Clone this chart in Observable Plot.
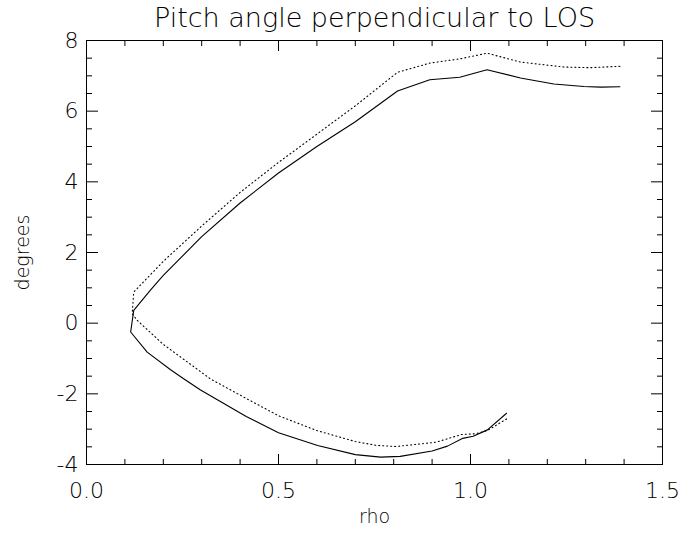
<!DOCTYPE html>
<html>
<head>
<meta charset="utf-8">
<script src="https://cdn.jsdelivr.net/npm/d3@7"></script>
<script src="https://cdn.jsdelivr.net/npm/@observablehq/plot@0.6"></script>
<style>
  html, body { margin: 0; padding: 0; background: #fff; }
  #chart svg { display: block; }
</style>
</head>
<body>
<div id="chart"></div>
<script>
const title = "Pitch angle perpendicular to LOS";
const xLabel = "rho";
const yLabel = "degrees";

// solid curve (lower branch end -> vertex -> upper branch end)
const solidRho = [1.094, 1.044, 1.007, 0.98, 0.94, 0.90, 0.817, 0.766, 0.70, 0.602, 0.50, 0.416, 0.297, 0.251, 0.219, 0.158, 0.115,
                  0.123, 0.167, 0.20, 0.30, 0.40, 0.50, 0.60, 0.70, 0.81, 0.894, 0.972, 1.043, 1.13, 1.217, 1.295, 1.339, 1.389];
const solidDeg = [-2.55, -3.02, -3.20, -3.26, -3.48, -3.62, -3.77, -3.79, -3.72, -3.46, -3.10, -2.64, -1.89, -1.56, -1.32, -0.82, -0.25,
                  0.36, 0.94, 1.35, 2.45, 3.40, 4.25, 5.00, 5.70, 6.57, 6.89, 6.96, 7.17, 6.94, 6.77, 6.70, 6.68, 6.69];

// dotted curve
const dottedRho = [1.094, 1.044, 1.013, 0.977, 0.91, 0.807, 0.755, 0.70, 0.60, 0.50, 0.426, 0.323, 0.20, 0.132, 0.119,
                   0.123, 0.20, 0.30, 0.40, 0.50, 0.60, 0.70, 0.81, 0.894, 0.972, 1.043, 1.13, 1.243, 1.31, 1.389];
const dottedDeg = [-2.71, -3.04, -3.13, -3.15, -3.37, -3.49, -3.46, -3.35, -3.04, -2.62, -2.19, -1.58, -0.60, 0.08, 0.27,
                   0.88, 1.75, 2.75, 3.70, 4.55, 5.35, 6.15, 7.10, 7.36, 7.48, 7.64, 7.39, 7.25, 7.23, 7.27];

const xMajor = [0.0, 0.5, 1.0, 1.5];
const xMinor = [0.1, 0.2, 0.3, 0.4, 0.6, 0.7, 0.8, 0.9, 1.1, 1.2, 1.3, 1.4];
const yMajor = [-4, -2, 0, 2, 4, 6, 8];
const yMinor = [-3.5, -3, -2.5, -1.5, -1, -0.5, 0.5, 1, 1.5, 2.5, 3, 3.5, 4.5, 5, 5.5, 6.5, 7, 7.5];

const solid = solidRho.map((r, i) => ({rho: r, deg: solidDeg[i]}));
const dotted = dottedRho.map((r, i) => ({rho: r, deg: dottedDeg[i]}));

const font = "'DejaVu Sans', sans-serif";

const chart = Plot.plot({
  width: 681,
  height: 536,
  marginLeft: 86,
  marginRight: 19,
  marginTop: 40,
  marginBottom: 72,
  style: {fontFamily: font, background: "#fff", color: "#000", fontWeight: 200},
  x: {domain: [0, 1.5], label: null},
  y: {domain: [-4, 8], label: null},
  marks: [
    Plot.frame({stroke: "#000", strokeWidth: 1}),
    // inward ticks, four sides
    Plot.axisX(xMajor, {anchor: "bottom", tickSize: -10, tickFormat: () => ""}),
    Plot.axisX(xMinor, {anchor: "bottom", tickSize: -5, tickFormat: () => ""}),
    Plot.axisX(xMajor, {anchor: "top", tickSize: -10, tickFormat: () => ""}),
    Plot.axisX(xMinor, {anchor: "top", tickSize: -5, tickFormat: () => ""}),
    Plot.axisY(yMajor, {anchor: "left", tickSize: -12, tickFormat: () => ""}),
    Plot.axisY(yMinor, {anchor: "left", tickSize: -6, tickFormat: () => ""}),
    Plot.axisY(yMajor, {anchor: "right", tickSize: -12, tickFormat: () => ""}),
    Plot.axisY(yMinor, {anchor: "right", tickSize: -6, tickFormat: () => ""}),
    // tick labels
    Plot.axisX(xMajor, {anchor: "bottom", tickSize: 0, tickPadding: 18, tickFormat: d3.format(".1f"), fontSize: 22, fontWeight: 200, fill: "#000", label: null}),
    Plot.axisY(yMajor, {anchor: "left", tickSize: 0, tickPadding: 8, tickFormat: d => String(d), fontSize: 22, fontWeight: 200, fill: "#000", label: null}),
    // axis titles and title
    Plot.text([xLabel], {frameAnchor: "bottom", dy: 58, fontSize: 19, fontWeight: 200, fill: "#000", letterSpacing: "1.5px"}),
    Plot.text([yLabel], {frameAnchor: "left", textAnchor: "middle", dx: -64, rotate: -90, fontSize: 19, fontWeight: 200, fill: "#000", letterSpacing: "3px"}),
    Plot.text([title], {frameAnchor: "top", textAnchor: "middle", dy: -33, fontSize: 27, fontWeight: 200, fill: "#000", letterSpacing: "4.9px"}),
    // data
    Plot.line(solid, {x: "rho", y: "deg", stroke: "#000", strokeWidth: 1.1}),
    Plot.line(dotted, {x: "rho", y: "deg", stroke: "#000", strokeWidth: 1.1, strokeDasharray: "1,3"})
  ]
});
document.getElementById("chart").appendChild(chart);
</script>
</body>
</html>
